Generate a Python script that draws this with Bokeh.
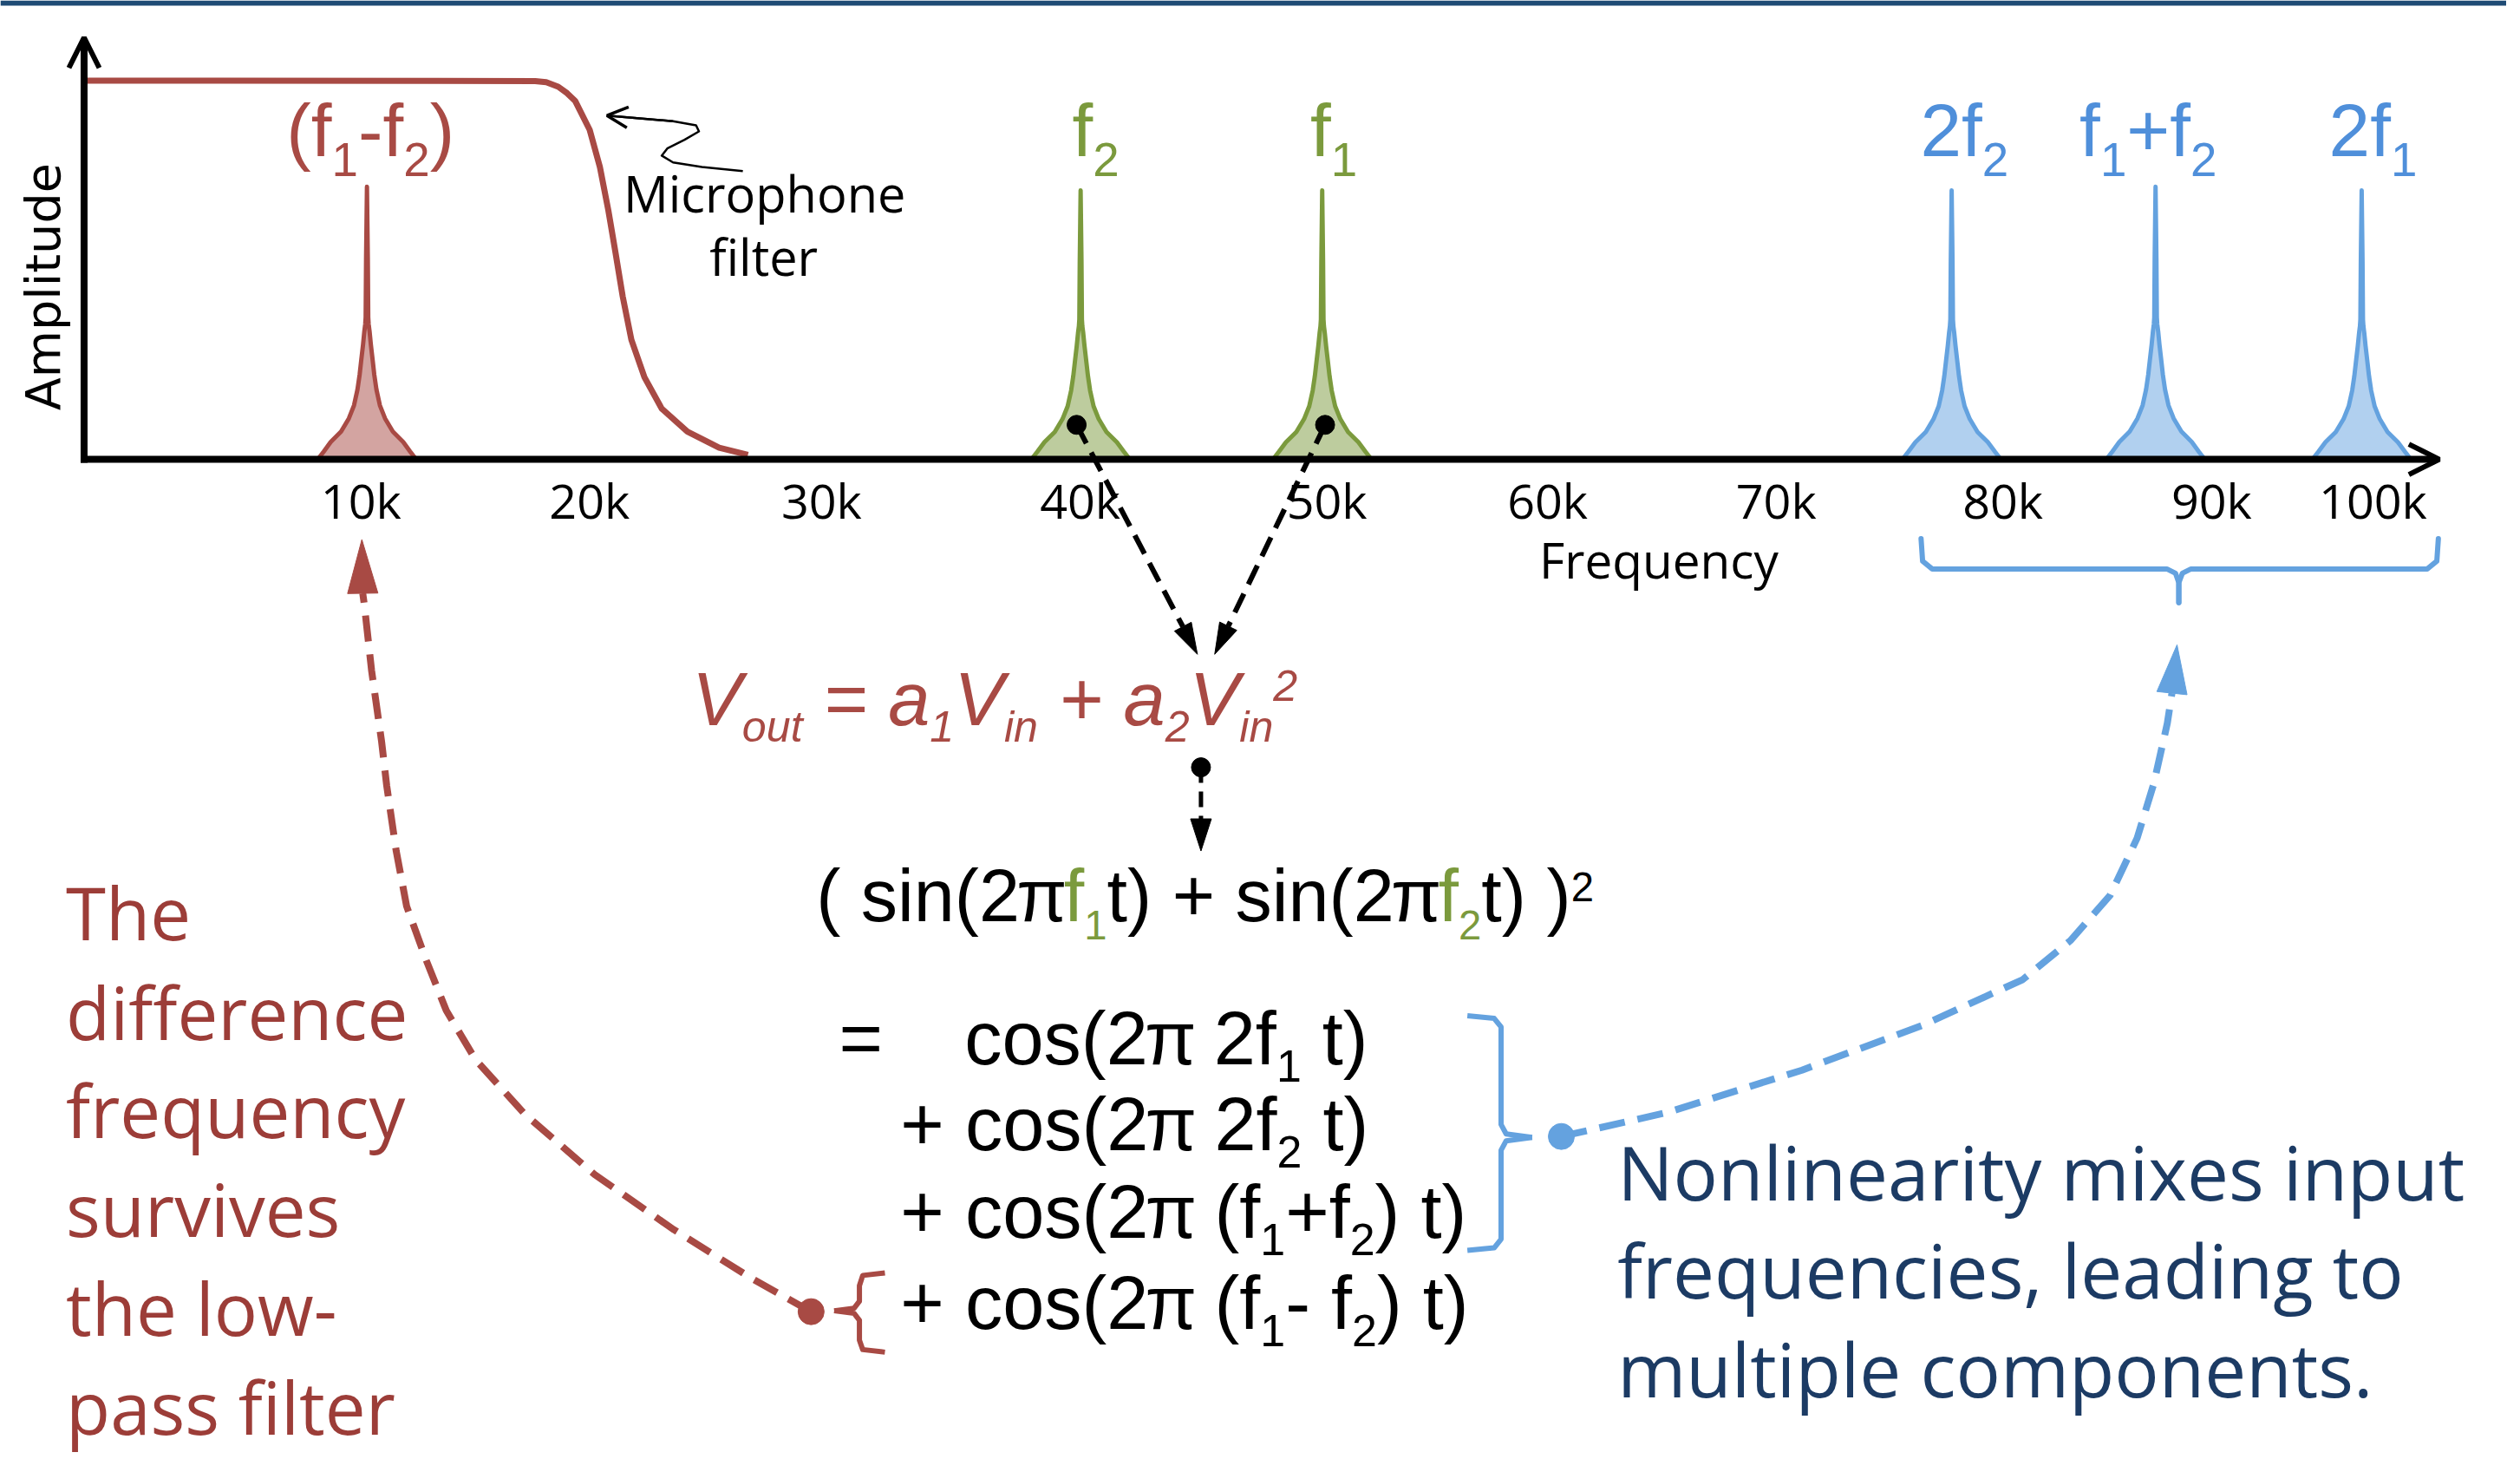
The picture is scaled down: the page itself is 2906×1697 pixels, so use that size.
import math
from bokeh.plotting import figure
from bokeh.models import Range1d, Arrow, OpenHead, BoxAnnotation
from bokeh.core.properties import value
from bokeh.embed import file_html
from bokeh.resources import INLINE

# ------------------------------------------------------------------
# Values (frequency axis in kHz, amplitude with
# the microphone pass-band = 1.0)
# ------------------------------------------------------------------
peak_names = ["f1-f2", "f2", "f1", "2f2", "f1+f2", "2f1"]
peak_khz = [10.0, 42.2, 53.1, 81.5, 90.7, 100.0]
peak_amp = [0.72, 0.71, 0.71, 0.71, 0.72, 0.71]
peak_family = ["difference", "input", "input", "product", "product", "product"]

# one-sided outline shared by all peaks: offset from centre (kHz), fraction of height
profile_dkhz = [0.0, 0.039, 0.058, 0.078, 0.117, 0.175, 0.261, 0.331, 0.428,
                0.584, 0.817, 1.167, 1.634, 1.946, 2.218]
profile_frac = [1.0, 0.735, 0.521, 0.495, 0.470, 0.422, 0.361, 0.310, 0.256,
                0.198, 0.150, 0.102, 0.064, 0.029, 0.0]

# microphone low-pass response
filter_khz = [-2.76, 17.59, 18.09, 18.63, 19.03, 19.40, 20.05, 20.51, 20.89, 21.22,
              21.54, 21.93, 22.52, 23.30, 24.46, 25.89, 27.19]
filter_amp = [1.0, 0.999, 0.996, 0.984, 0.967, 0.946, 0.870, 0.772, 0.658, 0.544,
              0.430, 0.316, 0.217, 0.134, 0.073, 0.031, 0.012]

tick_labels = ["10k", "20k", "30k", "40k", "50k", "60k", "70k", "80k", "90k", "100k"]
tick_khz = [9.73, 20.04, 30.51, 42.18, 53.31, 63.27, 73.58, 83.81, 93.23, 100.51]

# ------------------------------------------------------------------
# Styles
# ------------------------------------------------------------------
RED = "#A84A44"
RED_TXT = "#9C3D38"
GREEN = "#7B9A3D"
BLUE = "#64A2DF"
BLUE_TXT = "#4F8FDA"
NAVY = "#1C3B64"
BAR = "#1F4B75"
fam_color = {"difference": RED, "input": GREEN, "product": BLUE}
fam_label = {"difference": RED, "input": GREEN, "product": BLUE_TXT}

W, H = 2890, 1681
X0, X1 = -6.537, 106.537
Y0, Y1 = -2.63850, 1.21185
SX = W / (X1 - X0)   # canvas px per kHz
SY = H / (Y1 - Y0)   # canvas px per amplitude unit
FS = W / 2906.0      # font scale relative to the reference picture

# vertical distance (em) from the middle anchor down to the alphabetic baseline
MID = {"Open Sans": 0.386, "Liberation Sans": 0.344, "DejaVu Sans": 0.344}

p = figure(width=W, height=H, x_range=Range1d(X0, X1), y_range=Range1d(Y0, Y1),
           output_backend="svg", toolbar_location=None,
           x_axis_location=None, y_axis_location=None, min_border=0,
           outline_line_color=None, background_fill_color="white",
           border_fill_color="white")
p.grid.visible = False

# top banner
p.add_layout(BoxAnnotation(bottom=Y1 - 6 / SY, top=Y1, fill_color=BAR, fill_alpha=1.0,
                           line_alpha=0))


def label(xs, base_ys, texts, font, size, color, align="left"):
    fs = size * FS
    p.text(x=xs, y=[b + MID[font] * fs / SY for b in base_ys], text=texts,
           text_font=value(font), text_font_size=value(f"{fs:.1f}px"),
           text_color=color, text_align=align, text_baseline="middle")


# Liberation Sans (Arial metrics) advance widths, per em
W_LIB = {" ": 0.278, "(": 0.333, ")": 0.333, "+": 0.584, "-": 0.333, "=": 0.584,
         "a": 0.556, "c": 0.5, "f": 0.278, "i": 0.222, "n": 0.556, "o": 0.556,
         "s": 0.5, "t": 0.278, "u": 0.556, "V": 0.667}
for d in "0123456789":
    W_LIB[d] = 0.556
PI_W = 0.60


def text_w(s, size):
    return sum(W_LIB.get(ch, 0.556) for ch in s) * size


def rich(x, y, segs, size, color, italic=False, align="left",
         sub=0.56, sub_dy=0.25, sup_dy=-0.30):
    size = size * FS
    pieces = []  # (pos_px, dy_px, text, fs, color, align)
    cur = 0.0
    sp = W_LIB[" "]
    for seg in segs:
        s, kind = seg[0], seg[1]
        col = seg[2] if len(seg) > 2 and seg[2] else color
        fs = size if kind == "n" else size * sub
        dy = 0.0 if kind == "n" else (sub_dy * size if kind == "sub" else sup_dy * size)
        for j, part in enumerate(s.split("π")):
            if j > 0:
                slot = PI_W * fs
                pieces.append((cur + slot / 2, dy, "π", fs, col, "center"))
                cur += slot
            core = part.strip(" ")
            if not core:
                cur += len(part) * sp * fs
                continue
            cur += (len(part) - len(part.lstrip(" "))) * sp * fs
            pieces.append((cur, dy, core, fs, col, "left"))
            cur += text_w(core, fs) + (len(part) - len(part.rstrip(" "))) * sp * fs
    shift = -cur / 2 if align == "center" else 0.0
    for al in ("left", "center"):
        sel = [q for q in pieces if q[5] == al]
        if not sel:
            continue
        p.text(x=[x + (q[0] + shift) / SX for q in sel],
               y=[y + (-q[1] + MID["Liberation Sans"] * q[3]) / SY for q in sel],
               text=[q[2] for q in sel],
               text_font_size=[f"{q[3]:.1f}px" for q in sel],
               text_color=[q[4] for q in sel],
               text_font=value("Liberation Sans"),
               text_font_style="italic" if italic else "normal",
               text_align=al, text_baseline="middle")


def head(tip, frm, length, width, color):
    tx, ty = tip[0] * SX, tip[1] * SY
    fx, fy = frm[0] * SX, frm[1] * SY
    n = math.hypot(tx - fx, ty - fy)
    ux, uy = (tx - fx) / n, (ty - fy) / n
    bx, by = tx - length * ux, ty - length * uy
    nx, ny = -uy, ux
    xs = [tx, bx + width / 2 * nx, bx - width / 2 * nx]
    ys = [ty, by + width / 2 * ny, by - width / 2 * ny]
    p.patch([v / SX for v in xs], [v / SY for v in ys], fill_color=color,
            line_color=color, line_width=1)
    return (bx / SX, by / SY)


# ------------------------------------------------------------------
# Spectrum
# ------------------------------------------------------------------
p.line(filter_khz, filter_amp, line_color=RED, line_width=7, line_join="round")

pxs, pys, pcols = [], [], []
for c, a, fam in zip(peak_khz, peak_amp, peak_family):
    pxs.append([c - d for d in reversed(profile_dkhz)] + [c + d for d in profile_dkhz[1:]])
    pys.append([a * f for f in reversed(profile_frac)] + [a * f for f in profile_frac[1:]])
    pcols.append(fam_color[fam])
p.patches(pxs, pys, fill_color=pcols, fill_alpha=0.5, line_color=pcols,
          line_width=5, line_join="round")

# axes (arrows)
p.add_layout(Arrow(end=OpenHead(size=35, line_width=6, line_color="black"),
                   x_start=-2.918, y_start=0.0, x_end=103.5, y_end=0.0,
                   line_width=8, line_color="black"))
p.add_layout(Arrow(end=OpenHead(size=35, line_width=6, line_color="black"),
                   x_start=-2.763, y_start=-0.009, x_end=-2.763, y_end=1.114,
                   line_width=8, line_color="black"))

label(tick_khz, [-0.155] * len(tick_khz), tick_labels, "Open Sans", 56, "black", "center")
label([68.29], [-0.314], ["Frequency"], "Open Sans", 57, "black", "center")
p.text(x=[-4.61], y=[0.4556], text=["Amplitude"], angle=math.pi / 2,
       text_font=value("DejaVu Sans"), text_font_size=value(f"{56 * FS:.1f}px"),
       text_color="black", text_align="center", text_baseline="middle")

# microphone filter note
label([27.94, 27.90], [0.6515, 0.4852], ["Microphone", "filter"], "Open Sans", 58,
      "black", "center")
sq_x = [26.96, 25.11, 23.81, 23.30, 23.55, 24.33, 24.98, 24.85, 23.81, 20.83]
sq_y = [0.761, 0.772, 0.784, 0.802, 0.821, 0.844, 0.866, 0.882, 0.893, 0.908]
p.line(sq_x, sq_y, line_color="black", line_width=2.5, line_join="round")
p.add_layout(Arrow(end=OpenHead(size=24, line_width=3.5, line_color="black"),
                   x_start=sq_x[-2], y_start=sq_y[-2], x_end=sq_x[-1], y_end=sq_y[-1],
                   line_width=2.5, line_color="black"))

# peak labels
label_segs = [
    [("(f", "n"), ("1", "sub"), ("-f", "n"), ("2", "sub"), (")", "n")],
    [("f", "n"), ("2", "sub")],
    [("f", "n"), ("1", "sub")],
    [("2f", "n"), ("2", "sub")],
    [("f", "n"), ("1", "sub"), ("+f", "n"), ("2", "sub")],
    [("2f", "n"), ("1", "sub")],
]
label_khz = [10.16, 42.88, 53.62, 82.08, 90.37, 100.51]
for segs, lx, fam in zip(label_segs, label_khz, peak_family):
    rich(lx, 0.80, segs, 86, fam_label[fam], align="center", sub=0.64, sub_dy=0.26)

# ------------------------------------------------------------------
# Arrows from the input peaks to the nonlinearity
# ------------------------------------------------------------------
for dot, tip in [((42.02, 0.0911), (47.47, -0.5148)), ((53.23, 0.0911), (48.25, -0.5148))]:
    b = head(tip, dot, 36, 22, "black")
    p.line([dot[0], b[0]], [dot[1], b[1]], line_color="black", line_width=6,
           line_dash="24 12")
b = head((47.63, -1.0341), (47.63, -0.8132), 37, 24, "black")
p.line([47.63, b[0]], [-0.8132, b[1]], line_color="black", line_width=5, line_dash="18 10")
p.scatter(x=[42.02, 53.23, 47.63], y=[0.0911, 0.0911, -0.8132], size=22,
          marker="circle", fill_color="black", line_color="black")

# equations
rich(24.67, -0.7016,
     [("V", "n"), ("out", "sub"), (" = a", "n"), ("1", "sub"), ("V", "n"), ("in", "sub"),
      (" + a", "n"), ("2", "sub"), ("V", "n"), ("in", "sub"), ("2", "sup")],
     87, RED, italic=True, sub=0.58, sub_dy=0.22, sup_dy=-0.32)
rich(30.27, -1.2196,
     [("( sin(2π", "n"), ("f", "n", GREEN), ("1", "sub", GREEN), ("t) + sin(2π", "n"),
      ("f", "n", GREEN), ("2", "sub", GREEN), ("t) )", "n"), ("2", "sup")],
     85, "black", sub_dy=0.24, sup_dy=-0.27)
rich(31.30, -1.5968, [("=", "n")], 87, "black")
rich(36.96, -1.5968, [("cos(2π 2f", "n"), ("1", "sub"), (" t)", "n")], 87, "black",
     sub=0.6, sub_dy=0.23)
rich(34.07, -1.8246, [("+ cos(2π 2f", "n"), ("2", "sub"), (" t)", "n")], 87, "black",
     sub=0.6, sub_dy=0.23)
rich(34.07, -2.0547, [("+ cos(2π (f", "n"), ("1", "sub"), ("+f", "n"), ("2", "sub"),
                      (") t)", "n")], 87, "black", sub=0.6, sub_dy=0.23)
rich(34.07, -2.2961, [("+ cos(2π (f", "n"), ("1", "sub"), ("- f", "n"), ("2", "sub"),
                      (") t)", "n")], 87, "black", sub=0.6, sub_dy=0.23)

# ------------------------------------------------------------------
# Braces and connector arrows
# ------------------------------------------------------------------
p.multi_line(
    xs=[[80.12, 80.19, 80.62, 91.21, 91.60, 91.75, 91.75],
        [103.46, 103.39, 102.96, 92.30, 91.91, 91.75, 91.75]],
    ys=[[-0.2096, -0.2688, -0.2893, -0.2893, -0.3007, -0.3257, -0.3781],
        [-0.2096, -0.2688, -0.2893, -0.2893, -0.3007, -0.3257, -0.3781]],
    line_color=BLUE, line_width=6, line_join="round", line_cap="round")
p.multi_line(
    xs=[[59.65, 60.86, 61.17, 61.17, 61.40, 62.57],
        [59.65, 60.86, 61.17, 61.17, 61.40, 62.57]],
    ys=[[-1.4692, -1.4761, -1.4989, -1.7563, -1.7813, -1.7904],
        [-2.0888, -2.0820, -2.0592, -1.8246, -1.7995, -1.7904]],
    line_color=BLUE, line_width=6, line_join="round")
p.multi_line(
    xs=[[33.37, 32.37, 32.22, 32.22, 31.98, 31.08],
        [33.37, 32.37, 32.22, 32.22, 31.98, 31.08]],
    ys=[[-2.1481, -2.1549, -2.1822, -2.2232, -2.2415, -2.2483],
        [-2.3576, -2.3508, -2.3257, -2.2733, -2.2551, -2.2483]],
    line_color=RED, line_width=6, line_join="round")

blue_cx = [63.89, 68.68, 74.75, 80.19, 84.71, 86.85, 88.66, 89.87, 90.62, 91.23, 91.44]
blue_cy = [-1.788, -1.7244, -1.6128, -1.4943, -1.3736, -1.2711, -1.1503, -1.0,
           -0.8565, -0.697, -0.6173]
b = head((91.67, -0.4897), (blue_cx[-1], blue_cy[-1]), 56, 35, BLUE)
p.line(blue_cx[:-1] + [b[0]], blue_cy[:-1] + [b[1]], line_color=BLUE, line_width=8,
       line_dash="30 15", line_join="round")
p.scatter(x=[63.89], y=[-1.788], size=30, marker="circle", fill_color=BLUE, line_color=BLUE)

red_cx = [30.04, 27.39, 23.85, 20.27, 17.12, 14.90, 13.58, 12.68, 11.79, 11.32, 10.89,
          10.66, 10.21, 9.88, 9.81]
red_cy = [-2.2506, -2.164, -2.0342, -1.8884, -1.7289, -1.5854, -1.4556, -1.3235, -1.18,
          -1.0342, -0.861, -0.7449, -0.5581, -0.3827, -0.3531]
b = head((9.77, -0.2118), (red_cx[-1], red_cy[-1]), 62, 35, RED)
p.line(red_cx[:-1] + [b[0]], red_cy[:-1] + [b[1]], line_color=RED, line_width=8,
       line_dash="30 15", line_join="round")
p.scatter(x=[30.04], y=[-2.2506], size=30, marker="circle", fill_color=RED, line_color=RED)

# ------------------------------------------------------------------
# Explanatory paragraphs
# ------------------------------------------------------------------
left_lines = ["The", "difference", "frequency", "survives", "the low-", "pass filter"]
left_y = [-1.2688, -1.5319, -1.7927, -2.0535, -2.3132, -2.5740]
label([-3.58] * len(left_lines), left_y, left_lines, "Open Sans", 84, RED_TXT)

right_lines = ["Nonlinearity mixes input", "frequencies, leading to", "multiple components."]
right_y = [-1.9567, -2.2164, -2.4761]
label([66.42] * len(right_lines), right_y, right_lines, "Open Sans", 86, NAVY)

open("out.html", "w").write(file_html(p, INLINE))
